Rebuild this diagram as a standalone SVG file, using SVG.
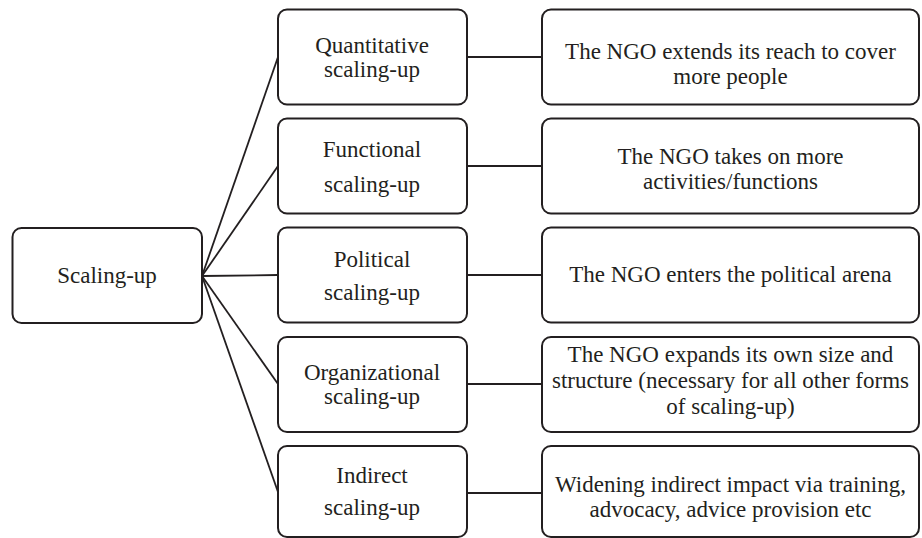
<svg xmlns="http://www.w3.org/2000/svg" width="922" height="538" viewBox="0 0 922 538">
<style>
.box{fill:#fff;stroke:#231f20;stroke-width:2;}
.t{font-size:23px;fill:#231f20;text-anchor:middle;}
.c{stroke:#231f20;stroke-width:1.8;fill:none;}
</style>
<rect width="922" height="538" fill="#fff"/>
<g id="connectors">
<line class="c" x1="202" y1="276" x2="278" y2="57"/>
<line class="c" x1="202" y1="276" x2="278" y2="166"/>
<line class="c" x1="202" y1="276" x2="278" y2="275"/>
<line class="c" x1="202" y1="276" x2="278" y2="384"/>
<line class="c" x1="202" y1="276" x2="278" y2="492"/>
<line class="c" x1="467" y1="57" x2="542" y2="57"/>
<line class="c" x1="467" y1="166" x2="542" y2="166"/>
<line class="c" x1="467" y1="275" x2="542" y2="275"/>
<line class="c" x1="467" y1="384" x2="542" y2="384"/>
<line class="c" x1="467" y1="493" x2="542" y2="493"/>
</g>
<g font-family="'Liberation Serif', 'Times New Roman', 'DejaVu Serif', serif">
<g id="root">
<rect class="box" x="12.5" y="228" width="189.5" height="95" rx="9"/>
<text class="t" x="107" y="283">Scaling-up</text>
</g>
<g id="quantitative">
<rect class="box" x="278" y="9.5" width="189" height="95" rx="9"/>
<text class="t" x="372" y="53">Quantitative</text>
<text class="t" x="372" y="77">scaling-up</text>
</g>
<g id="functional">
<rect class="box" x="278" y="118.5" width="189" height="95" rx="9"/>
<text class="t" x="372" y="157">Functional</text>
<text class="t" x="372" y="192">scaling-up</text>
</g>
<g id="political">
<rect class="box" x="278" y="227.5" width="189" height="95" rx="9"/>
<text class="t" x="372" y="267">Political</text>
<text class="t" x="372" y="300">scaling-up</text>
</g>
<g id="organizational">
<rect class="box" x="278" y="337" width="189" height="95" rx="9"/>
<text class="t" x="372" y="380">Organizational</text>
<text class="t" x="372" y="404">scaling-up</text>
</g>
<g id="indirect">
<rect class="box" x="278" y="446" width="189" height="91" rx="9"/>
<text class="t" x="372" y="483">Indirect</text>
<text class="t" x="372" y="515">scaling-up</text>
</g>
<g id="reach">
<rect class="box" x="542" y="9.5" width="377" height="95" rx="9"/>
<text class="t" x="730.5" y="59">The NGO extends its reach to cover</text>
<text class="t" x="730.5" y="84">more people</text>
</g>
<g id="activities">
<rect class="box" x="542" y="118.5" width="377" height="95" rx="9"/>
<text class="t" x="730.5" y="164">The NGO takes on more</text>
<text class="t" x="730.5" y="189">activities/functions</text>
</g>
<g id="arena">
<rect class="box" x="542" y="227.5" width="377" height="95" rx="9"/>
<text class="t" x="730.5" y="282">The NGO enters the political arena</text>
</g>
<g id="structure">
<rect class="box" x="542" y="337" width="377" height="95" rx="9"/>
<text class="t" x="730.5" y="362">The NGO expands its own size and</text>
<text class="t" x="730.5" y="388">structure (necessary for all other forms</text>
<text class="t" x="730.5" y="414">of scaling-up)</text>
</g>
<g id="impact">
<rect class="box" x="542" y="446" width="377" height="91" rx="9"/>
<text class="t" x="730.5" y="492">Widening indirect impact via training,</text>
<text class="t" x="730.5" y="517">advocacy, advice provision etc</text>
</g>
</g>
</svg>
